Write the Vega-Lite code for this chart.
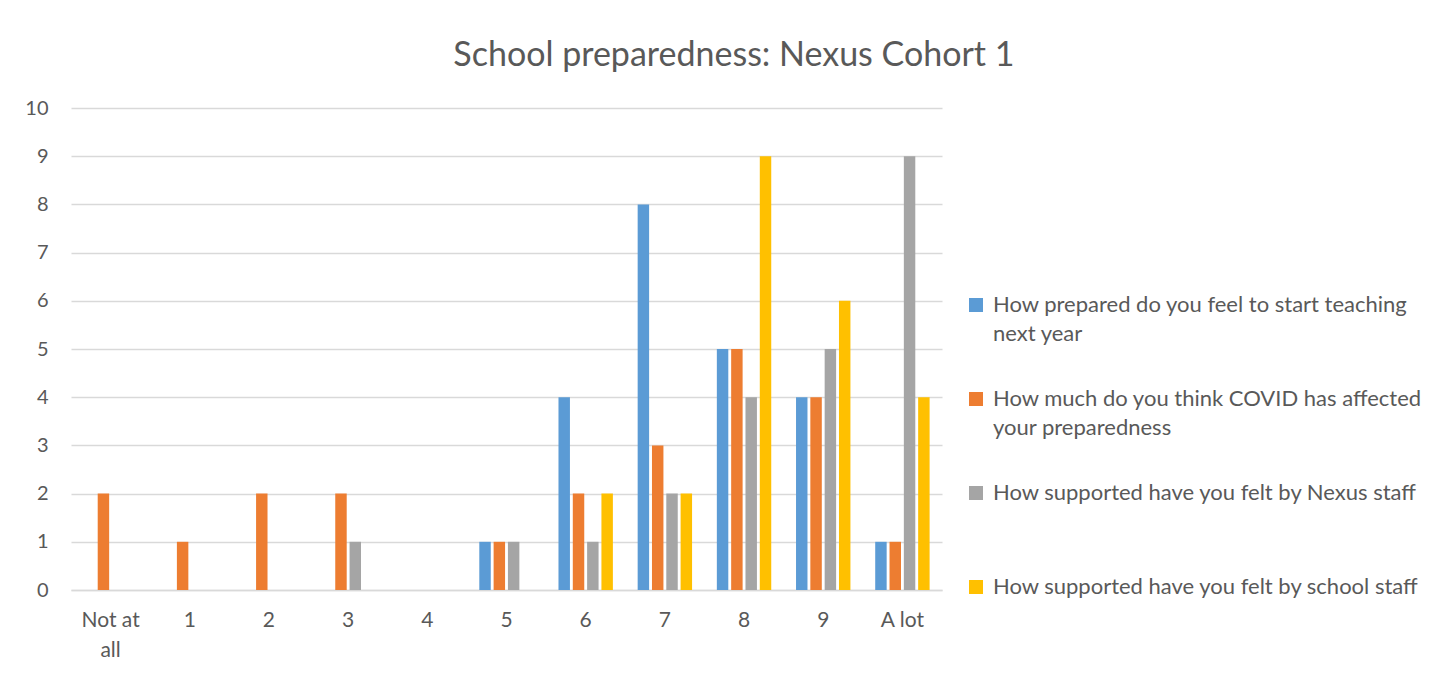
{
  "$schema": "https://vega.github.io/schema/vega-lite/v6.json",
  "width": 871,
  "height": 482,
  "padding": {"left": 24, "top": 39, "right": 10, "bottom": 10},
  "background": "white",
  "title": {
    "text": "School preparedness: Nexus Cohort 1",
    "font": "Lato",
    "fontSize": 34,
    "fontWeight": "normal",
    "color": "#595959",
    "anchor": "middle",
    "frame": "bounds",
    "offset": 25,
    "dx": 10
  },
  "config": {
    "view": {"stroke": null},
    "font": "Lato"
  },
  "data": {
    "values": [
      {"score": "Not at all", "series": "How prepared do you feel to start teaching next year", "count": 0},
      {"score": "1", "series": "How prepared do you feel to start teaching next year", "count": 0},
      {"score": "2", "series": "How prepared do you feel to start teaching next year", "count": 0},
      {"score": "3", "series": "How prepared do you feel to start teaching next year", "count": 0},
      {"score": "4", "series": "How prepared do you feel to start teaching next year", "count": 0},
      {"score": "5", "series": "How prepared do you feel to start teaching next year", "count": 1},
      {"score": "6", "series": "How prepared do you feel to start teaching next year", "count": 4},
      {"score": "7", "series": "How prepared do you feel to start teaching next year", "count": 8},
      {"score": "8", "series": "How prepared do you feel to start teaching next year", "count": 5},
      {"score": "9", "series": "How prepared do you feel to start teaching next year", "count": 4},
      {"score": "A lot", "series": "How prepared do you feel to start teaching next year", "count": 1},
      {"score": "Not at all", "series": "How much do you think COVID has affected your preparedness", "count": 2},
      {"score": "1", "series": "How much do you think COVID has affected your preparedness", "count": 1},
      {"score": "2", "series": "How much do you think COVID has affected your preparedness", "count": 2},
      {"score": "3", "series": "How much do you think COVID has affected your preparedness", "count": 2},
      {"score": "4", "series": "How much do you think COVID has affected your preparedness", "count": 0},
      {"score": "5", "series": "How much do you think COVID has affected your preparedness", "count": 1},
      {"score": "6", "series": "How much do you think COVID has affected your preparedness", "count": 2},
      {"score": "7", "series": "How much do you think COVID has affected your preparedness", "count": 3},
      {"score": "8", "series": "How much do you think COVID has affected your preparedness", "count": 5},
      {"score": "9", "series": "How much do you think COVID has affected your preparedness", "count": 4},
      {"score": "A lot", "series": "How much do you think COVID has affected your preparedness", "count": 1},
      {"score": "Not at all", "series": "How supported have you felt by Nexus staff", "count": 0},
      {"score": "1", "series": "How supported have you felt by Nexus staff", "count": 0},
      {"score": "2", "series": "How supported have you felt by Nexus staff", "count": 0},
      {"score": "3", "series": "How supported have you felt by Nexus staff", "count": 1},
      {"score": "4", "series": "How supported have you felt by Nexus staff", "count": 0},
      {"score": "5", "series": "How supported have you felt by Nexus staff", "count": 1},
      {"score": "6", "series": "How supported have you felt by Nexus staff", "count": 1},
      {"score": "7", "series": "How supported have you felt by Nexus staff", "count": 2},
      {"score": "8", "series": "How supported have you felt by Nexus staff", "count": 4},
      {"score": "9", "series": "How supported have you felt by Nexus staff", "count": 5},
      {"score": "A lot", "series": "How supported have you felt by Nexus staff", "count": 9},
      {"score": "Not at all", "series": "How supported have you felt by school staff", "count": 0},
      {"score": "1", "series": "How supported have you felt by school staff", "count": 0},
      {"score": "2", "series": "How supported have you felt by school staff", "count": 0},
      {"score": "3", "series": "How supported have you felt by school staff", "count": 0},
      {"score": "4", "series": "How supported have you felt by school staff", "count": 0},
      {"score": "5", "series": "How supported have you felt by school staff", "count": 0},
      {"score": "6", "series": "How supported have you felt by school staff", "count": 2},
      {"score": "7", "series": "How supported have you felt by school staff", "count": 2},
      {"score": "8", "series": "How supported have you felt by school staff", "count": 9},
      {"score": "9", "series": "How supported have you felt by school staff", "count": 6},
      {"score": "A lot", "series": "How supported have you felt by school staff", "count": 4}
    ]
  },
  "mark": {"type": "bar"},
  "encoding": {
    "x": {
      "field": "score",
      "type": "nominal",
      "sort": ["Not at all", "1", "2", "3", "4", "5", "6", "7", "8", "9", "A lot"],
      "scale": {"paddingInner": 0.313, "paddingOuter": 0.1565},
      "axis": {
        "title": null,
        "labelAngle": 0,
        "labelFont": "Lato",
        "labelFontSize": 21,
        "labelColor": "#595959",
        "labelPadding": 19,
        "labelLineHeight": 30,
        "labelExpr": "datum.label == 'Not at all' ? ['Not at', 'all'] : datum.label",
        "ticks": false,
        "domainColor": "#D9D9D9",
        "domainWidth": 1.5
      }
    },
    "xOffset": {
      "field": "series",
      "type": "nominal",
      "sort": [
        "How prepared do you feel to start teaching next year",
        "How much do you think COVID has affected your preparedness",
        "How supported have you felt by Nexus staff",
        "How supported have you felt by school staff"
      ],
      "scale": {"paddingInner": 0.2, "paddingOuter": 0}
    },
    "y": {
      "field": "count",
      "type": "quantitative",
      "scale": {"domain": [0, 10], "nice": false},
      "axis": {
        "title": null,
        "values": [0, 1, 2, 3, 4, 5, 6, 7, 8, 9, 10],
        "labelFont": "Lato",
        "labelFontSize": 20,
        "labelColor": "#595959",
        "labelPadding": 23,
        "ticks": false,
        "domain": false,
        "gridColor": "#D9D9D9",
        "gridWidth": 1.5
      }
    },
    "color": {
      "field": "series",
      "type": "nominal",
      "scale": {
        "domain": [
          "How prepared do you feel to start teaching next year",
          "How much do you think COVID has affected your preparedness",
          "How supported have you felt by Nexus staff",
          "How supported have you felt by school staff"
        ],
        "range": ["#5B9BD5", "#ED7D31", "#A5A5A5", "#FFC000"]
      },
      "legend": {
        "title": null,
        "orient": "none",
        "legendX": 894,
        "legendY": 186,
        "symbolType": "square",
        "symbolSize": 196,
        "symbolStrokeWidth": 0,
        "symbolOpacity": 1,
        "labelFont": "Lato",
        "labelFontSize": 22,
        "labelColor": "#595959",
        "labelLimit": 600,
        "labelOffset": 6,
        "labelBaseline": "middle",
        "rowPadding": 43,
        "encode": {"labels": {"update": {"lineHeight": {"value": 29}}}},
        "labelExpr": "datum.label == 'How prepared do you feel to start teaching next year' ? ['How prepared do you feel to start teaching', 'next year'] : datum.label == 'How much do you think COVID has affected your preparedness' ? ['How much do you think COVID has affected', 'your preparedness'] : [datum.label, '']"
      }
    }
  }
}
